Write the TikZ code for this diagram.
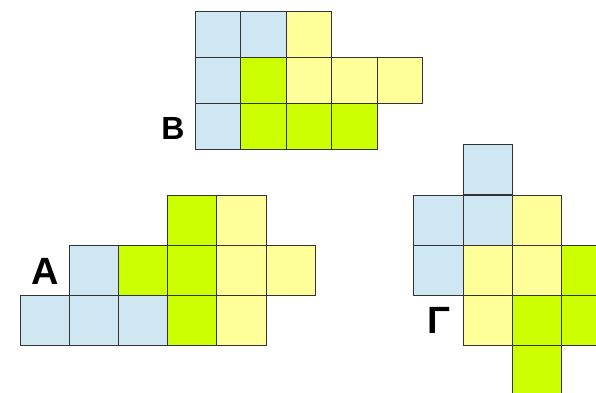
\documentclass[tikz,border=0pt]{standalone}
\usepackage{fontspec}
\setmainfont{Liberation Sans}
\usepackage{xcolor}
\usepackage{tikz}
\usetikzlibrary{positioning}
\definecolor{tileblue}{HTML}{CFE6F3}
\definecolor{tileyellow}{HTML}{FFFF99}
\definecolor{tilegreen}{HTML}{CCFF00}
\tikzset{
  cell/.style={rectangle,draw=black!80,line width=1pt,inner sep=0pt,minimum width=49.3pt,minimum height=50pt},
  smallcell/.style={minimum width=45.5pt,minimum height=46pt},
  bluecell/.style={cell,fill=tileblue},
  yellowcell/.style={cell,fill=tileyellow},
  greencell/.style={cell,fill=tilegreen},
  letter/.style={font=\bfseries\fontsize{38}{38}\selectfont,inner sep=0pt}
}

\begin{document}
\begin{tikzpicture}[x=1pt,y=-1pt]
  \useasboundingbox (0,0) rectangle (596,392);
  \clip (0,0) rectangle (596,392);

  % figure B
  \node[bluecell,smallcell] (b00) at (217.75,34.7) {};
  \node[bluecell,smallcell] (b01) at (263.25,34.7) {};
  \node[yellowcell,smallcell] (b02) at (308.75,34.7) {};
  \node[bluecell,smallcell] (b10) at (217.75,80.7) {};
  \node[greencell,smallcell] (b11) at (263.25,80.7) {};
  \node[yellowcell,smallcell] (b12) at (308.75,80.7) {};
  \node[yellowcell,smallcell] (b13) at (354.25,80.7) {};
  \node[yellowcell,smallcell] (b14) at (399.75,80.7) {};
  \node[bluecell,smallcell] (b20) at (217.75,126.8) {};
  \node[greencell,smallcell] (b21) at (263.25,126.8) {};
  \node[greencell,smallcell] (b22) at (308.75,126.8) {};
  \node[greencell,smallcell] (b23) at (354.25,126.8) {};
  \node[letter,font=\bfseries\fontsize{32}{32}\selectfont] (lB) at (173,128.2) {Β};

  % figure A
  \node[greencell] (a03) at (192.5,220) {};
  \node[yellowcell] (a04) at (241.6,220) {};
  \node[bluecell] (a11) at (94.3,270.1) {};
  \node[greencell] (a12) at (143.4,270.1) {};
  \node[greencell] (a13) at (192.5,270.1) {};
  \node[yellowcell] (a14) at (241.6,270.1) {};
  \node[yellowcell] (a15) at (290.7,270.1) {};
  \node[bluecell] (a20) at (45.2,320.3) {};
  \node[bluecell] (a21) at (94.3,320.3) {};
  \node[bluecell] (a22) at (143.4,320.3) {};
  \node[greencell] (a23) at (192.5,320.3) {};
  \node[yellowcell] (a24) at (241.6,320.3) {};
  \node[letter] (lA) at (45.3,271.3) {Α};

  % figure Gamma
  \node[bluecell] (g01) at (487.9,169.8) {};
  \node[bluecell] (g10) at (438.6,220) {};
  \node[bluecell] (g11) at (487.9,220) {};
  \node[yellowcell] (g12) at (537.2,220) {};
  \node[bluecell] (g20) at (438.6,270.3) {};
  \node[yellowcell] (g21) at (487.9,270.3) {};
  \node[yellowcell] (g22) at (537.2,270.3) {};
  \node[greencell] (g23) at (586.5,270.3) {};
  \node[yellowcell] (g31) at (487.9,320.3) {};
  \node[greencell] (g32) at (537.2,320.3) {};
  \node[greencell] (g33) at (586.5,320.3) {};
  \node[greencell] (g42) at (537.2,370.3) {};
  \node[letter] (lG) at (439.3,320.8) {Γ};

\end{tikzpicture}
\end{document}
